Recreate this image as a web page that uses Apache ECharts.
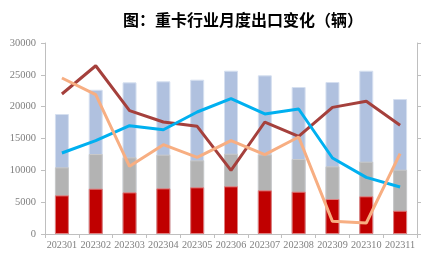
<!DOCTYPE html>
<html><head><meta charset="utf-8">
<script src="https://cdn.jsdelivr.net/npm/echarts@6/dist/echarts.min.js"></script>
<style>html,body{margin:0;padding:0;background:#fff}#c{width:426px;height:271px}</style>
</head><body><div id="c"></div>
<script>
const categories = ['202301','202302','202303','202304','202305','202306','202307','202308','202309','202310','202311'];
// cumulative bar levels (overlapping bars)
const barTotal = [18850, 22660, 23820, 23980, 24240, 25650, 24920, 23090, 23870, 25650, 21200];
const barMid   = [10470, 12560, 12040, 12460, 11570, 12610, 12500, 11780, 10630, 11360, 10100];
const barLow   = [6070, 7120, 6540, 7170, 7330, 7490, 6860, 6650, 5500, 5920, 3660];
const lineDarkRed = [21990, 26430, 19370, 17590, 16910, 10000, 17590, 15340, 19890, 20840, 17070];
const lineBlue    = [12720, 14660, 17010, 16380, 19160, 21250, 18850, 19630, 11940, 8900, 7380];
const lineOrange  = [24500, 21880, 10630, 14030, 12040, 14660, 12460, 15230, 1990, 1730, 12610];
const yTicks = [0, 5000, 10000, 15000, 20000, 25000, 30000];

const chart = echarts.init(document.getElementById('c'));
const axisCol = '#bfbfbf';
function bar(data, color, border, z){
  return {type:'bar', data, barWidth:14, barGap:'-100%', z,
    itemStyle:{color, borderColor:border, borderWidth:1}, animation:false};
}
function line(data, color){
  return {type:'line', data, symbol:'none', lineStyle:{color, width:3}, z:10, animation:false};
}
chart.setOption({
  animation:false,
  title:{text:'图：重卡行业月度出口变化（辆）', left:238, textAlign:'center', top:7,
    textStyle:{fontFamily:'Noto Sans CJK SC', fontWeight:'bold', fontSize:16, color:'#000'}},
  grid:{left:45, right:9, top:43, bottom:37},
  xAxis:{type:'category', data:categories, boundaryGap:true,
    axisLine:{lineStyle:{color:axisCol}},
    axisTick:{show:true, alignWithLabel:false, lineStyle:{color:axisCol}, length:4},
    axisLabel:{margin:6, interval:0, color:'#7f7f7f', fontFamily:'Liberation Serif', fontSize:10.2}},
  yAxis:[
    {type:'value', min:yTicks[0], max:yTicks[yTicks.length-1], interval:5000,
      axisLine:{show:true, lineStyle:{color:axisCol}},
      axisTick:{show:true, length:4, lineStyle:{color:axisCol}},
      splitLine:{show:false},
      axisLabel:{margin:9, color:'#7f7f7f', fontFamily:'Liberation Serif', fontSize:10.5,
        formatter:v => String(v)}},
    {type:'value', min:yTicks[0], max:yTicks[yTicks.length-1], interval:5000, position:'right',
      axisLine:{show:true, lineStyle:{color:axisCol}},
      axisTick:{show:true, length:4, lineStyle:{color:axisCol}},
      splitLine:{show:false}, axisLabel:{show:false}}
  ],
  series:[
    bar(barTotal, '#b0c1df', '#d6e0f0', 1),
    bar(barMid, '#b3b3b3', '#c9c9c9', 2),
    bar(barLow, '#c00000', '#e08080', 3),
    line(lineDarkRed, '#a5403c'),
    line(lineBlue, '#00b0f0'),
    line(lineOrange, '#f7ae82')
  ]
});
</script></body></html>
